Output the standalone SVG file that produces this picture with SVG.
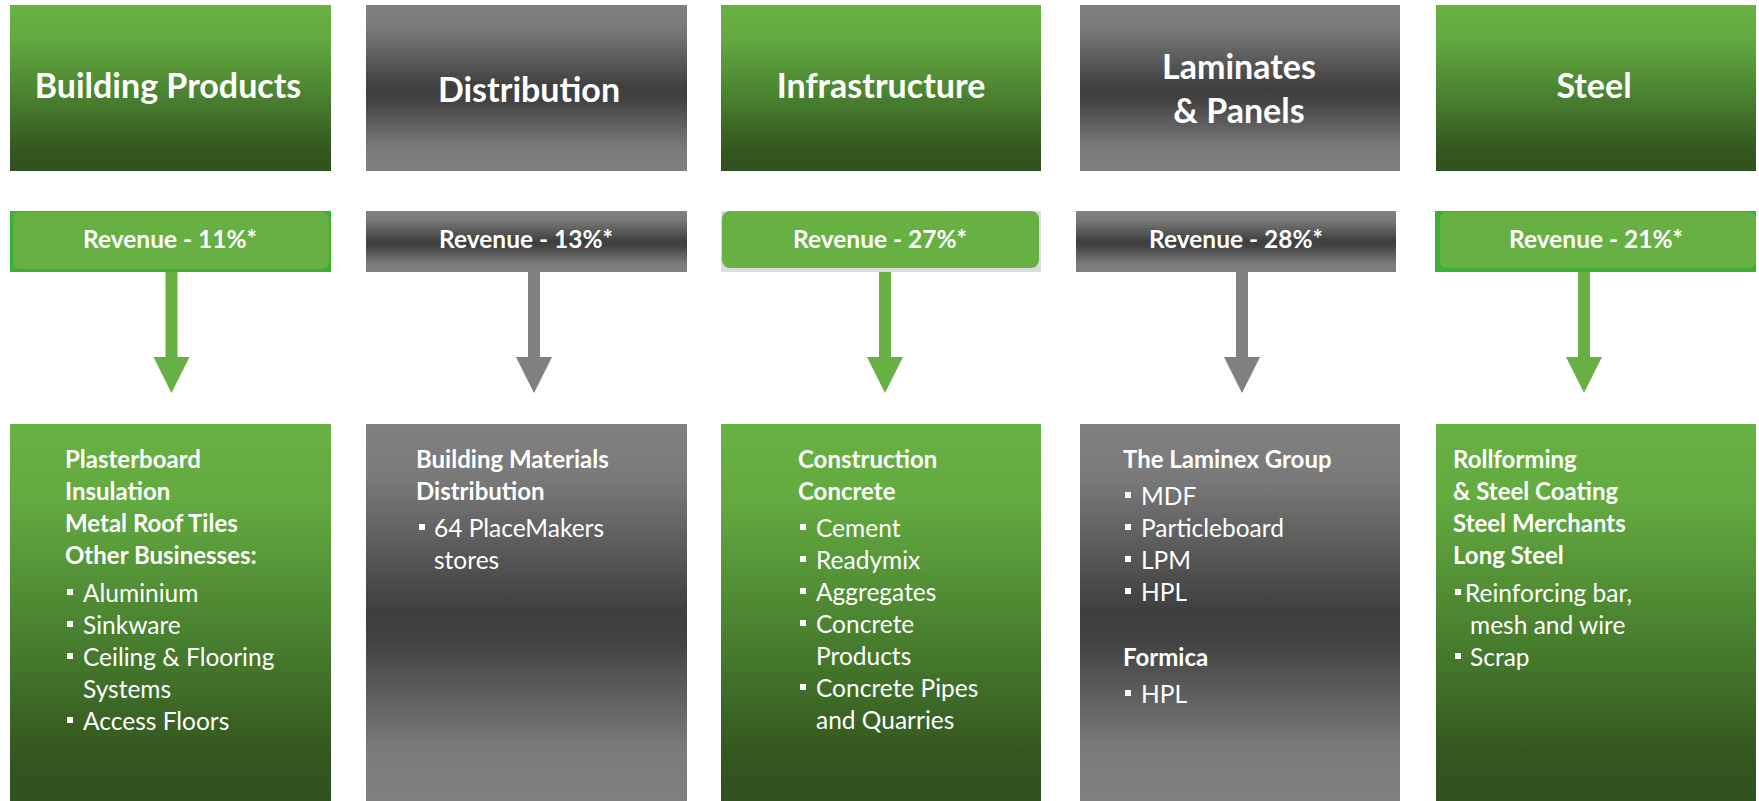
<svg xmlns="http://www.w3.org/2000/svg" width="1759" height="801" viewBox="0 0 1759 801">
<defs>
<linearGradient id="gGreen" x1="0" y1="0" x2="0" y2="1">
<stop offset="0" stop-color="#68b143"/>
<stop offset="0.2" stop-color="#63aa40"/>
<stop offset="0.6" stop-color="#467b2d"/>
<stop offset="0.88" stop-color="#34561f"/>
<stop offset="1" stop-color="#31511e"/>
</linearGradient>
<linearGradient id="gGray" x1="0" y1="0" x2="0" y2="1">
<stop offset="0" stop-color="#808080"/>
<stop offset="0.14" stop-color="#7a7a7a"/>
<stop offset="0.5" stop-color="#3e3e3e"/>
<stop offset="0.58" stop-color="#434343"/>
<stop offset="0.86" stop-color="#7a7a7a"/>
<stop offset="1" stop-color="#808080"/>
</linearGradient>
<style>
.t{font-family:Lato,"Open Sans","Liberation Sans",sans-serif;fill:#fff}
.title{font-size:34px;font-weight:700;text-anchor:middle}
.rev{font-size:24.5px;font-weight:700;text-anchor:middle}
.h{font-size:24px;font-weight:700}
.b{font-size:24.5px;font-weight:400}
.bul{fill:#fff}
.ga{fill:#67b043}
.gy{fill:#808080}
.border{fill:#3cb034}
.inner{fill:#67b043}
</style>
</defs>

<g id="connectors">
<path class="ga" d="M165.5,272 H177.5 V357 H189.5 L171.5,393 L153.5,357 H165.5 Z"/>
<path class="gy" d="M528,272 H540 V357 H552 L534,393 L516,357 H528 Z"/>
<path class="ga" d="M879,272 H891 V357 H903 L885,393 L867,357 H879 Z"/>
<path class="gy" d="M1236,272 H1248 V357 H1260 L1242,393 L1224,357 H1236 Z"/>
<path class="ga" d="M1578,272 H1590 V357 H1602 L1584,393 L1566,357 H1578 Z"/>
</g>

<g id="building-products">
<rect x="10" y="5" width="321" height="166" fill="url(#gGreen)"/>
<text class="t title" x="168" y="98">Building Products</text>
</g>
<g id="building-products-revenue">
<rect class="border" x="10" y="211" width="321" height="61"/>
<rect class="inner" x="13" y="212" width="316" height="57" rx="7"/>
<text class="t rev" x="170" y="248">Revenue - 11%*</text>
</g>
<g id="building-products-detail">
<rect x="10" y="424" width="321" height="377" fill="url(#gGreen)"/>
<text class="t h" x="65" y="468">Plasterboard</text>
<text class="t h" x="65" y="500">Insulation</text>
<text class="t h" x="65" y="532">Metal Roof Tiles</text>
<text class="t h" x="65" y="564">Other Businesses:</text>
<rect class="bul" x="67" y="589" width="6" height="6"/>
<text class="t b" x="83" y="602">Aluminium</text>
<rect class="bul" x="67" y="621" width="6" height="6"/>
<text class="t b" x="83" y="634">Sinkware</text>
<rect class="bul" x="67" y="653" width="6" height="6"/>
<text class="t b" x="83" y="666">Ceiling &amp; Flooring</text>
<text class="t b" x="83" y="698">Systems</text>
<rect class="bul" x="67" y="717" width="6" height="6"/>
<text class="t b" x="83" y="730">Access Floors</text>
</g>

<g id="distribution">
<rect x="366" y="5" width="321" height="166" fill="url(#gGray)"/>
<text class="t title" x="529" y="102">Distribution</text>
</g>
<g id="distribution-revenue">
<rect x="366" y="211" width="321" height="61" fill="url(#gGray)"/>
<text class="t rev" x="526" y="248">Revenue - 13%*</text>
</g>
<g id="distribution-detail">
<rect x="366" y="424" width="321" height="377" fill="url(#gGray)"/>
<text class="t h" x="416" y="468">Building Materials</text>
<text class="t h" x="416" y="500">Distribution</text>
<rect class="bul" x="419" y="524" width="6" height="6"/>
<text class="t b" x="434" y="537">64 PlaceMakers</text>
<text class="t b" x="434" y="569">stores</text>
</g>

<g id="infrastructure">
<rect x="721" y="5" width="320" height="166" fill="url(#gGreen)"/>
<text class="t title" x="881" y="98">Infrastructure</text>
</g>
<g id="infrastructure-revenue">
<rect x="721" y="211" width="320" height="61" fill="#dcdcdc"/>
<rect class="inner" x="722" y="211" width="317" height="57" rx="8"/>
<text class="t rev" x="880" y="248">Revenue - 27%*</text>
</g>
<g id="infrastructure-detail">
<rect x="721" y="424" width="320" height="377" fill="url(#gGreen)"/>
<text class="t h" x="798" y="468">Construction</text>
<text class="t h" x="798" y="500">Concrete</text>
<rect class="bul" x="800" y="524" width="6" height="6"/>
<text class="t b" x="816" y="537">Cement</text>
<rect class="bul" x="800" y="556" width="6" height="6"/>
<text class="t b" x="816" y="569">Readymix</text>
<rect class="bul" x="800" y="588" width="6" height="6"/>
<text class="t b" x="816" y="601">Aggregates</text>
<rect class="bul" x="800" y="620" width="6" height="6"/>
<text class="t b" x="816" y="633">Concrete</text>
<text class="t b" x="816" y="665">Products</text>
<rect class="bul" x="800" y="684" width="6" height="6"/>
<text class="t b" x="816" y="697">Concrete Pipes</text>
<text class="t b" x="816" y="729">and Quarries</text>
</g>

<g id="laminates-panels">
<rect x="1080" y="5" width="320" height="166" fill="url(#gGray)"/>
<text class="t title" x="1239" y="79">Laminates</text>
<text class="t title" x="1239" y="123">&amp; Panels</text>
</g>
<g id="laminates-panels-revenue">
<rect x="1076" y="211" width="320" height="61" fill="url(#gGray)"/>
<text class="t rev" x="1236" y="248">Revenue - 28%*</text>
</g>
<g id="laminates-panels-detail">
<rect x="1080" y="424" width="320" height="377" fill="url(#gGray)"/>
<text class="t h" x="1123" y="468">The Laminex Group</text>
<rect class="bul" x="1125" y="492" width="6" height="6"/>
<text class="t b" x="1141" y="505">MDF</text>
<rect class="bul" x="1125" y="524" width="6" height="6"/>
<text class="t b" x="1141" y="537">Particleboard</text>
<rect class="bul" x="1125" y="556" width="6" height="6"/>
<text class="t b" x="1141" y="569">LPM</text>
<rect class="bul" x="1125" y="588" width="6" height="6"/>
<text class="t b" x="1141" y="601">HPL</text>
<text class="t h" x="1123" y="666">Formica</text>
<rect class="bul" x="1125" y="690" width="6" height="6"/>
<text class="t b" x="1141" y="703">HPL</text>
</g>

<g id="steel">
<rect x="1436" y="5" width="320" height="166" fill="url(#gGreen)"/>
<text class="t title" x="1594" y="98">Steel</text>
</g>
<g id="steel-revenue">
<rect class="border" x="1435" y="211" width="321" height="61"/>
<rect class="inner" x="1440" y="212" width="316" height="56" rx="7"/>
<text class="t rev" x="1596" y="248">Revenue - 21%*</text>
</g>
<g id="steel-detail">
<rect x="1436" y="424" width="320" height="377" fill="url(#gGreen)"/>
<text class="t h" x="1453" y="468">Rollforming</text>
<text class="t h" x="1453" y="500">&amp; Steel Coating</text>
<text class="t h" x="1453" y="532">Steel Merchants</text>
<text class="t h" x="1453" y="564">Long Steel</text>
<rect class="bul" x="1455" y="589" width="6" height="6"/>
<text class="t b" x="1465" y="602">Reinforcing bar,</text>
<text class="t b" x="1470" y="634">mesh and wire</text>
<rect class="bul" x="1455" y="653" width="6" height="6"/>
<text class="t b" x="1470" y="666">Scrap</text>
</g>
</svg>
